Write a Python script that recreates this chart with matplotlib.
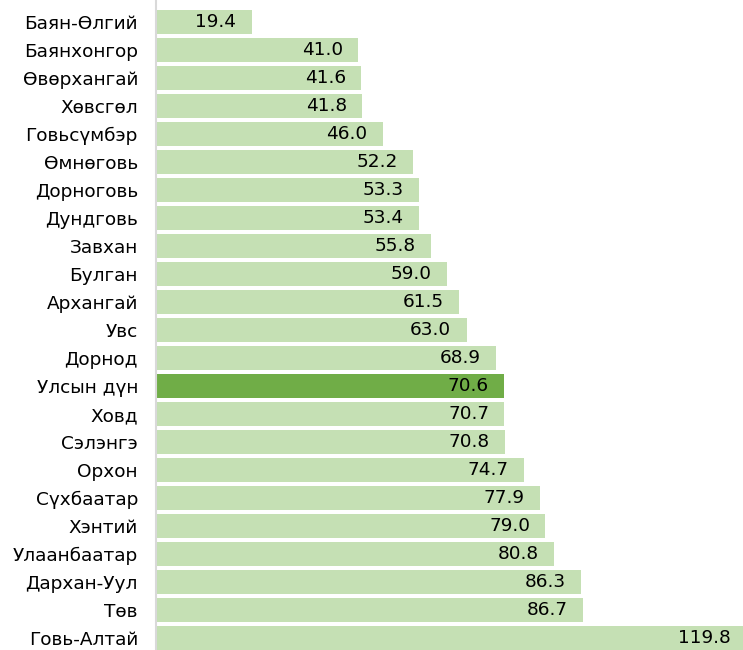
import matplotlib
matplotlib.use('Agg')
import matplotlib.pyplot as plt

regions = ['Баян-Өлгий', 'Баянхонгор', 'Өвөрхангай', 'Хөвсгөл', 'Говьсүмбэр',
           'Өмнөговь', 'Дорноговь', 'Дундговь', 'Завхан', 'Булган', 'Архангай',
           'Увс', 'Дорнод', 'Улсын дүн', 'Ховд', 'Сэлэнгэ', 'Орхон', 'Сүхбаатар',
           'Хэнтий', 'Улаанбаатар', 'Дархан-Уул', 'Төв', 'Говь-Алтай']
values = [19.4, 41.0, 41.6, 41.8, 46.0, 52.2, 53.3, 53.4, 55.8, 59.0, 61.5,
          63.0, 68.9, 70.6, 70.7, 70.8, 74.7, 77.9, 79.0, 80.8, 86.3, 86.7, 119.8]
highlight = 'Улсын дүн'

colors = ['#70AD47' if r == highlight else '#C5E0B4' for r in regions]

fig = plt.figure(figsize=(7.43, 6.5), dpi=100)
ax = fig.add_axes([156 / 743, 0, 1 - 156 / 743, 1])

y = list(range(len(regions)))
ax.barh(y, values, height=0.85, color=colors, align='center')

for yi, v in zip(y, values):
    ax.annotate(f'{v:.1f}', xy=(v, yi), xytext=(-11, 0), textcoords='offset points',
                ha='right', va='center', fontsize=13.3, color='#000000',
                annotation_clip=False)

ax.set_yticks(y)
ax.set_yticklabels(regions, fontsize=13.3)
ax.tick_params(axis='y', length=0, pad=13)
ax.set_xticks([])
ax.set_xlim(0, 119.1)
ax.set_ylim(22.43, -0.786)

for s in ['top', 'right', 'bottom']:
    ax.spines[s].set_visible(False)
ax.spines['left'].set_color('#D9D9D9')
ax.spines['left'].set_linewidth(1.5)

plt.savefig('out.png', dpi=100)
